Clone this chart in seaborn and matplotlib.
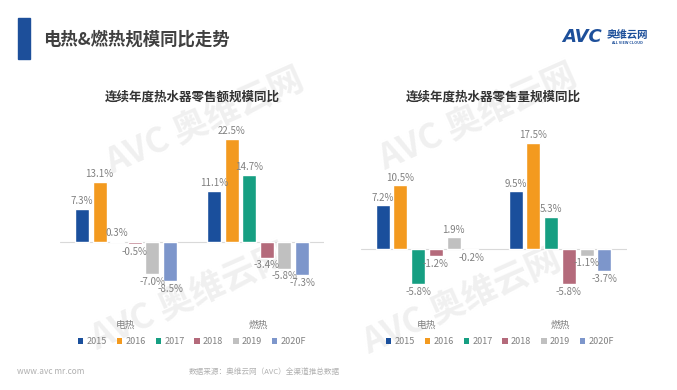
import numpy as np
import pandas as pd
import seaborn as sns
import matplotlib.pyplot as plt
from matplotlib.patches import Rectangle, Patch

# ---------------- data ----------------
categories = ['电热', '燃热']
years = ['2015', '2016', '2017', '2018', '2019', '2020F']
value_elec = [7.3, 13.1, 0.3, -0.5, -7.0, -8.5]     # 零售额 电热
value_gas = [11.1, 22.5, 14.7, -3.4, -5.8, -7.3]    # 零售额 燃热
volume_elec = [7.2, 10.5, -5.8, -1.2, 1.9, -0.2]    # 零售量 电热
volume_gas = [9.5, 17.5, 5.3, -5.8, -1.1, -3.7]     # 零售量 燃热
colors = ['#1a4f9c', '#f39a1f', '#169f82', '#b46a7b', '#c0c0c0', '#7d96cb']

main_title = '电热&燃热规模同比走势'
title_left = '连续年度热水器零售额规模同比'
title_right = '连续年度热水器零售量规模同比'
source = '数据来源：奥维云网（AVC）全渠道推总数据'
site = 'www.avc mr.com'


def make_df(elec, gas):
    rows = []
    for cat, vals in zip(categories, [elec, gas]):
        for y, v in zip(years, vals):
            rows.append({'cat': cat, 'year': y, 'val': v})
    return pd.DataFrame(rows)


sns.set_theme(style='white')
plt.rcParams['font.family'] = ['Noto Sans CJK SC', 'DejaVu Sans']

W, H = 677, 390
fig = plt.figure(figsize=(W / 100, H / 100), dpi=100)
fig.patch.set_facecolor('white')


def fx(px):
    return px / W


def fy(py):
    return 1 - py / H


# watermarks (faint)
for cx, cy in [(205, 122), (478, 118), (190, 298), (462, 302)]:
    fig.text(fx(cx), fy(cy), 'AVC 奥维云网', fontsize=25, fontweight='bold',
             fontstyle='italic', color='#f0f0f0', rotation=24,
             ha='center', va='center', zorder=-5)

ax_top, ax_bot = 110, 316
specs = [
    (60, 324, value_elec, value_gas, 242, 4.58, title_left, 192, 192),
    (360.5, 626.5, volume_elec, volume_gas, 249, 6.06, title_right, 493, 500),
]

for x0, x1, elec, gas, base, ppu, title, tcx, lcx in specs:
    ax = fig.add_axes([fx(x0), fy(ax_bot), fx(x1 - x0), (ax_bot - ax_top) / H])
    ax.set_facecolor('none')
    df = make_df(elec, gas)
    sns.barplot(data=df, x='cat', y='val', hue='year', order=categories,
                hue_order=years, palette=colors, width=0.8, gap=0.2,
                legend=False, ax=ax, saturation=1)
    for cont in ax.containers:
        ax.bar_label(cont, fmt='{:.1f}%', padding=2, fontsize=7,
                     color='#808080')
    ax.set_xlim(-0.5, 1.5)
    ax.set_ylim(-(ax_bot - base) / ppu, (base - ax_top) / ppu)
    ax.axhline(0, color='#d9d9d9', lw=0.8, zorder=0)
    for s in ax.spines.values():
        s.set_visible(False)
    ax.set_yticks([])
    ax.set_xlabel('')
    ax.set_ylabel('')
    ax.tick_params(axis='x', length=0, pad=3, labelsize=7, labelcolor='#808080')

    fig.text(fx(tcx), fy(97), title, fontsize=9, fontweight='bold',
             color='#333333', ha='center', va='center')

    handles = [Patch(facecolor=c, edgecolor='none') for c in colors]
    fig.legend(handles, years, loc='center', bbox_to_anchor=(fx(lcx), fy(342)),
               ncol=6, frameon=False, fontsize=6.5, handlelength=0.6,
               handleheight=0.6, handletextpad=0.35, columnspacing=1.1,
               labelcolor='#808080')

# header
fig.patches.append(Rectangle((fx(18), fy(59)), fx(12), 41 / H,
                             transform=fig.transFigure, color='#1d4f9a'))
fig.text(fx(43), fy(40), main_title, fontsize=12.5, fontweight='bold',
         color='#404040', ha='left', va='center')

# logo
fig.text(fx(562), fy(37), 'AVC', fontsize=13, fontweight='bold',
         fontstyle='italic', color='#1d4f9a', ha='left', va='center',
         family=['DejaVu Sans'])
fig.text(fx(607), fy(35), '奥维云网', fontsize=7.5, fontweight='bold',
         color='#1d4f9a', ha='left', va='center')
fig.text(fx(627), fy(43), 'ALL VIEW CLOUD', fontsize=2.8, fontweight='bold',
         color='#1d4f9a', ha='center', va='center')

# footer
fig.text(fx(17), fy(372), site, fontsize=6, color='#b0b0b0',
         ha='left', va='center')
fig.text(fx(264), fy(372), source, fontsize=5.5, color='#b0b0b0',
         ha='center', va='center')

fig.savefig('out.png', dpi=100, facecolor='white')
